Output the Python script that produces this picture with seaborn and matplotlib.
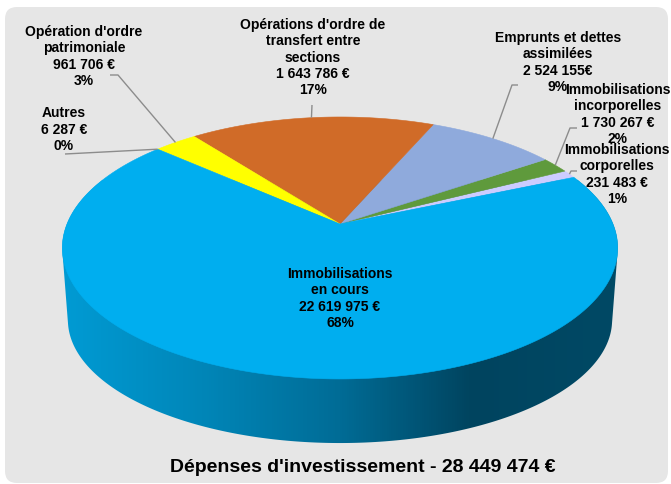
import numpy as np
import matplotlib
matplotlib.use("Agg")
import matplotlib.pyplot as plt
from matplotlib.patches import Polygon, FancyBboxPatch
from matplotlib.colors import LinearSegmentedColormap
import seaborn as sns

# Investment spending by category (counter-clockwise from the right)
categories = [
    "Immobilisations\ncorporelles",
    "Immobilisations\nincorporelles",
    "Emprunts et dettes\nassimilées",
    "Opérations d'ordre de\ntransfert entre\nsections",
    "Opération d'ordre\npatrimoniale",
    "Autres",
    "Immobilisations\nen cours",
]
amounts = ["231 483 €", "1 730 267 €", "2 524 155€", "1 643 786 €",
           "961 706 €", "6 287 €", "22 619 975 €"]
shares = [1, 2, 9, 17, 3, 0, 68]
colors = ["#ccccff", "#5f9a3c", "#8faadc", "#d06b28", "#ffff00", "#a5a5a5", "#00aeef"]
title = "Dépenses d'investissement - 28 449 474 €"

sns.set_theme(style="white")
plt.rcParams["font.family"] = ["Liberation Sans", "DejaVu Sans"]

# Perspective view of the disc: far side shrinks, near side grows
CX, K = 340.0, 0.183
FACES = {"top": (273.0, 126.6, 224.0), "bottom": (267.5, 118.9, 297.5)}
START = 23.3


def proj(t_deg, face="top", r=1.0):
    a, b, cy = FACES[face]
    t = np.radians(np.asarray(t_deg, dtype=float))
    X, Y = r * np.cos(t), r * np.sin(t)
    w = 1 + K * Y
    return CX + a * X / w, cy - b * Y / w


def convex_hull(points):
    pts = sorted(map(tuple, points))

    def cross(o, a, b):
        return (a[0] - o[0]) * (b[1] - o[1]) - (a[1] - o[1]) * (b[0] - o[0])

    lower, upper = [], []
    for p in pts:
        while len(lower) >= 2 and cross(lower[-2], lower[-1], p) <= 0:
            lower.pop()
        lower.append(p)
    for p in reversed(pts):
        while len(upper) >= 2 and cross(upper[-2], upper[-1], p) <= 0:
            upper.pop()
        upper.append(p)
    return np.array(lower[:-1] + upper[:-1])


fig = plt.figure(figsize=(6.71, 4.84), dpi=100)
fig.patch.set_facecolor("white")
ax = fig.add_axes([0, 0, 1, 1])
ax.axis("off")

# Panel background
ax.add_patch(FancyBboxPatch((5, 7), 663, 476,
                            boxstyle="round,pad=0,rounding_size=12",
                            fc="#e6e6e6", ec="none", zorder=0))

# Side of the disc: hull of top and bottom faces, shaded left to right
ts = np.linspace(0, 360, 721)
pts = np.vstack([np.column_stack(proj(ts, "top")),
                 np.column_stack(proj(ts, "bottom"))])
body = Polygon(convex_hull(pts), closed=True, fc="none", ec="none",
               transform=ax.transData)
ax.add_patch(body)
side_cmap = LinearSegmentedColormap.from_list(
    "side", [(0.0, "#009ed8"), (0.27, "#0086b8"), (0.5, "#006c96"),
             (0.72, "#00445f"), (1.0, "#004a66")])
grad = ax.imshow(np.linspace(0, 1, 600)[None, :], extent=(40, 640, 470, 180),
                 cmap=side_cmap, aspect="auto", interpolation="bilinear", zorder=1)
grad.set_clip_path(body)

# Top face wedges
total = float(sum(shares))
edges = START + 360.0 * np.concatenate([[0], np.cumsum(shares)]) / total
mids = (edges[:-1] + edges[1:]) / 2
for th1, th2, col in zip(edges[:-1], edges[1:], colors):
    if th2 - th1 <= 0:
        continue
    arc = np.linspace(th1, th2, max(int((th2 - th1) * 2), 4))
    ax_, ay_ = proj(arc, "top")
    verts = np.vstack([[CX, FACES["top"][2]], np.column_stack([ax_, ay_])])
    ax.add_patch(Polygon(verts, closed=True, fc=col, ec=col, lw=0.4, zorder=2))

# Labels: text centre, leader start, leader elbow (None = no leader)
label_layout = [
    ((617, 174.5), (577, 171), (571, 171)),
    ((618, 114.5), (577, 128), (570, 128)),
    ((558, 62.5), (518, 85), (512, 85)),
    ((313, 57.5), (312, 105), (312, 105)),
    ((84, 56.5), (110, 75), (118, 75)),
    ((64, 129.5), (65, 154), (65, 154)),
    ((340, 298.5), None, None),
]

for cat, amt, pct, mid, (tpos, lstart, elbow) in zip(
        categories, amounts, shares, mids, label_layout):
    ax.text(tpos[0], tpos[1], f"{cat}\n{amt}\n{pct}%", ha="center", va="center",
            fontsize=10, fontweight="bold", color="black", linespacing=1.22,
            zorder=5)
    if lstart is not None:
        ex, ey = proj(mid, "top")
        ax.plot([lstart[0], elbow[0], float(ex)], [lstart[1], elbow[1], float(ey)],
                color="#8c8c8c", lw=1.0, zorder=4, solid_capstyle="butt")

ax.text(362.5, 467.5, title, ha="center", va="center", fontsize=14,
        fontweight="bold", color="black", zorder=5)

ax.set_xlim(0, 671)
ax.set_ylim(484, 0)
fig.savefig("out.png", dpi=100, facecolor="white")
